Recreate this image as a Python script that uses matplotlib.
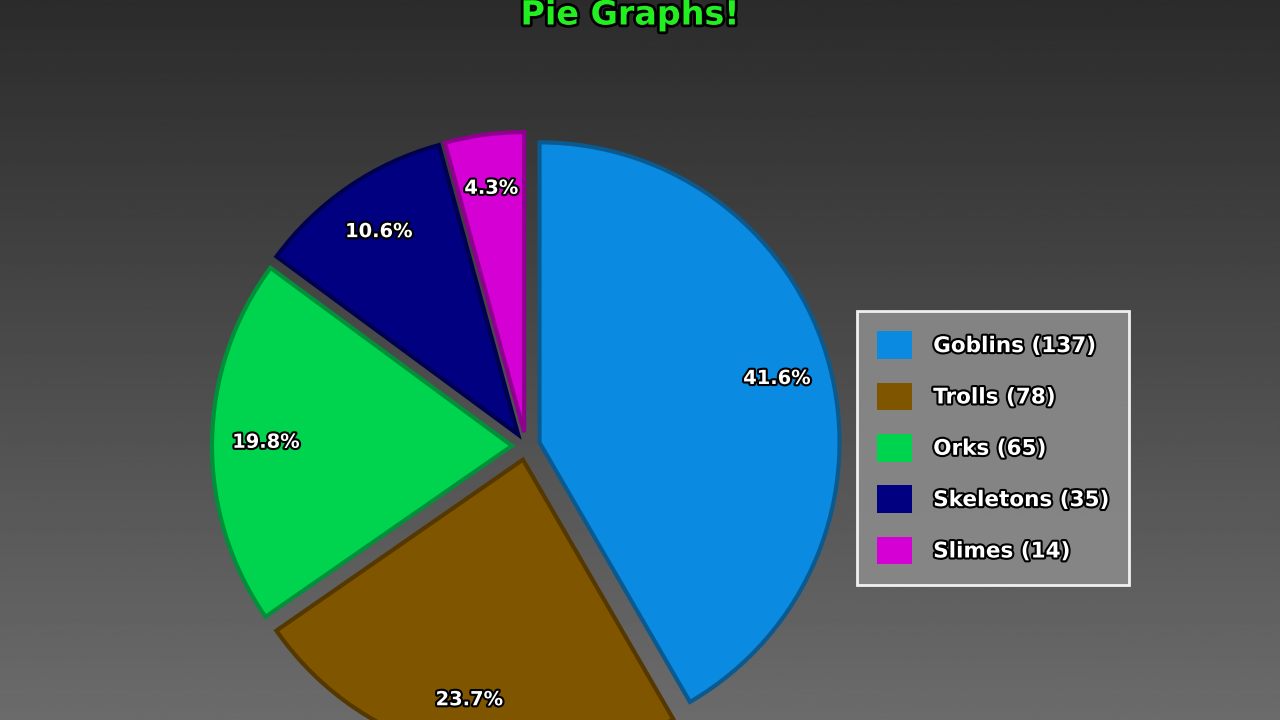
import matplotlib
matplotlib.use('Agg')
import matplotlib.pyplot as plt
import matplotlib.patheffects as pe
import numpy as np

names = ['Goblins', 'Trolls', 'Orks', 'Skeletons', 'Slimes']
counts = [137, 78, 65, 35, 14]
colors = ['#0a8ae0', '#7f5500', '#00d44f', '#000080', '#d400d4']
edges = ['#0a5a90', '#553800', '#00903a', '#000050', '#900090']

fig = plt.figure(figsize=(12.8, 7.2), dpi=100)
ax = fig.add_axes([0, 0, 1, 1])

# vertical grey gradient background
grad = np.linspace(0.42, 0.17, 256).reshape(-1, 1)
ax.imshow(grad, extent=[0, 1280, 0, 720], cmap='gray', vmin=0, vmax=1,
          aspect='auto', origin='lower', zorder=0)

stroke = [pe.withStroke(linewidth=3, foreground='black')]
# explode is in data units (pixels here), not a fraction of the radius
wedges, texts = ax.pie(
    counts, colors=colors, startangle=90, counterclock=False,
    center=(526, 274), radius=300, explode=[14] * 5,
    autopct='%1.1f%%', pctdistance=0.82,
    wedgeprops=dict(linewidth=3),
    textprops=dict(color='white', fontsize=14, fontweight='bold',
                   path_effects=stroke),
    frame=True)[:2]
for w, ec in zip(wedges, edges):
    w.set_edgecolor(ec)
    w.set_zorder(2)
ax.set_xlim(0, 1280)
ax.set_ylim(0, 720)
ax.set_aspect('auto')
ax.axis('off')

leg = ax.legend(wedges, [f'{n} ({c})' for n, c in zip(names, counts)],
                loc='upper left', bbox_to_anchor=(846 / 1280, 1 - 300 / 720),
                frameon=True, fontsize=15.5, labelspacing=1.1, handlelength=1.6,
                handleheight=1.6, borderpad=0.95, handletextpad=1.0,
                facecolor='#8a8a8a', edgecolor='white', framealpha=0.9,
                fancybox=False)
leg.get_frame().set_linewidth(2)
for t in leg.get_texts():
    t.set_color('white')
    t.set_fontweight('bold')
    t.set_path_effects(stroke)
for h in leg.legend_handles:
    h.set_linewidth(0)

ax.text(630, 705, 'Pie Graphs!', color='#22ee22', fontsize=24, fontweight='bold',
        ha='center', va='center',
        path_effects=[pe.withStroke(linewidth=4, foreground='black')], zorder=5)

fig.savefig('out.png', dpi=100)
